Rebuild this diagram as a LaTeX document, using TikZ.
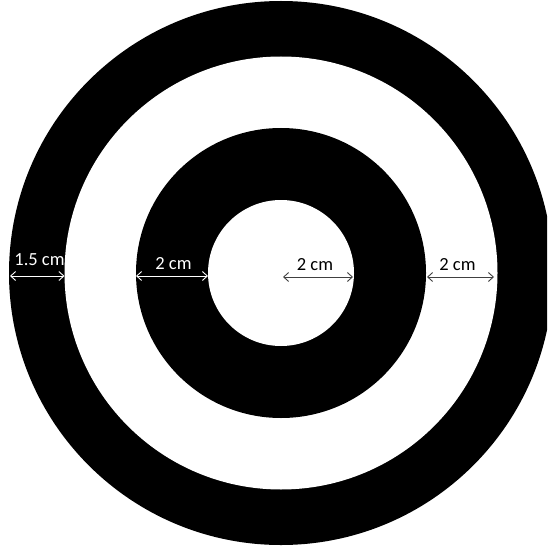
\documentclass[tikz,border=0pt]{standalone}
\usepackage{fontspec}
\setmainfont{Carlito}
\usetikzlibrary{arrows.meta}
\begin{document}
\begin{tikzpicture}[x=1pt,y=-1pt,
  dim/.style={{Straight Barb[length=5pt,width=9pt]}-{Straight Barb[length=5pt,width=9pt]}, line width=0.9pt},
  lbl/.style={anchor=base, inner sep=0pt, font=\fontsize{18.5}{21}\selectfont}]
\useasboundingbox (0,0) rectangle (547,548);
\clip (0,0) rectangle (547,548);
\fill[white] (0,0) rectangle (547,548);
\fill[black] (281,273) circle (272pt);
\fill[white] (281,273) circle (216.5pt);
\fill[black] (281,273) circle (145pt);
\fill[white] (281,273) circle (73pt);
% dimension ends
\coordinate (a1) at (10,276);  \coordinate (b1) at (64.5,276);
\coordinate (a2) at (136,276); \coordinate (b2) at (208,276);
\coordinate (a3) at (283,277); \coordinate (b3) at (353,277);
\coordinate (a4) at (427,277); \coordinate (b4) at (494,277);
\draw[dim, white] (a1) -- (b1);
\draw[dim, white] (a2) -- (b2);
\draw[dim, black!75] (a3) -- (b3);
\draw[dim, black!75] (a4) -- (b4);
\node[lbl, text=white] (t1) at (39.5,265.5) {1.5 cm};
\node[lbl, text=white] (t2) at (173.5,269.5) {2 cm};
\node[lbl, text=black] (t3) at (315,270.5) {2 cm};
\node[lbl, text=black] (t4) at (457.5,270.5) {2 cm};
\end{tikzpicture}
\end{document}
